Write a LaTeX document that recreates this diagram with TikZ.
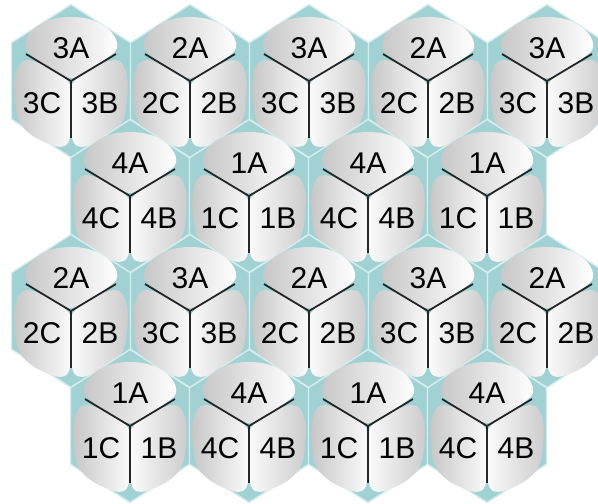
\documentclass[tikz,border=0pt]{standalone}
\usepackage{fontspec}
\setmainfont{Liberation Sans}
\definecolor{cellteal}{RGB}{160,210,211}
\definecolor{cellrim}{RGB}{214,236,236}
\tikzset{
  hexcell/.style={fill=cellteal, draw=cellrim, line width=1.4pt},
  lobeleft/.style={left color=black!22, middle color=black!5, right color=white},
  loberight/.style={left color=white, middle color=black!4, right color=black!20},
  yline/.style={line width=1.8pt, black!85},
  celllabel/.style={inner sep=0pt, font=\fontsize{30}{34}\selectfont}
}
\begin{document}
\begin{tikzpicture}[x=1pt, y=-1pt]
    \useasboundingbox (0,0) rectangle (598,504);
    \foreach \cx/\cy/\n [count=\i] in {71/81/3, 190/81/2, 309/81/3, 428/81/2, 547/81/3,
        130/196/4, 249/196/1, 368/196/4, 487/196/1,
        71/311/2, 190/311/3, 309/311/2, 428/311/3, 547/311/2,
        130/426/1, 249/426/4, 368/426/1, 487/426/4} {
      \begin{scope}[shift={(\cx,\cy)}]
        \draw[hexcell] (0,-76.5) -- (59.5,-38.25) -- (59.5,38.25) -- (0,76.5)
            -- (-59.5,38.25) -- (-59.5,-38.25) -- cycle;
        % three lobes
        \shade[lobeleft] plot[smooth cycle, tension=0.7] coordinates {(0,-3) (-36,-23) (-46,-38)
            (-30,-57) (0,-64) (30,-57) (46,-38) (36,-23)};
        \shade[lobeleft] plot[smooth cycle, tension=0.7] coordinates {(-2,2) (-38,-20) (-54,-12)
            (-56,20) (-48,46) (-22,63) (-3,62) (-1,32)};
        \shade[loberight] plot[smooth cycle, tension=0.7] coordinates {(2,2) (38,-20) (54,-12)
            (56,20) (48,46) (22,63) (3,62) (1,32)};
        \coordinate (c-\i) at (0,0);
        \draw[yline] (-45,-27) -- (c-\i) -- (45,-27);
        \draw[yline] (c-\i) -- (0,57);
        \node[celllabel] (a-\i) at (0,-33) {\n A};
        \node[celllabel] (b-\i) at (29,22) {\n B};
        \node[celllabel] (cc-\i) at (-29,22) {\n C};
      \end{scope}
    }
\end{tikzpicture}
\end{document}
